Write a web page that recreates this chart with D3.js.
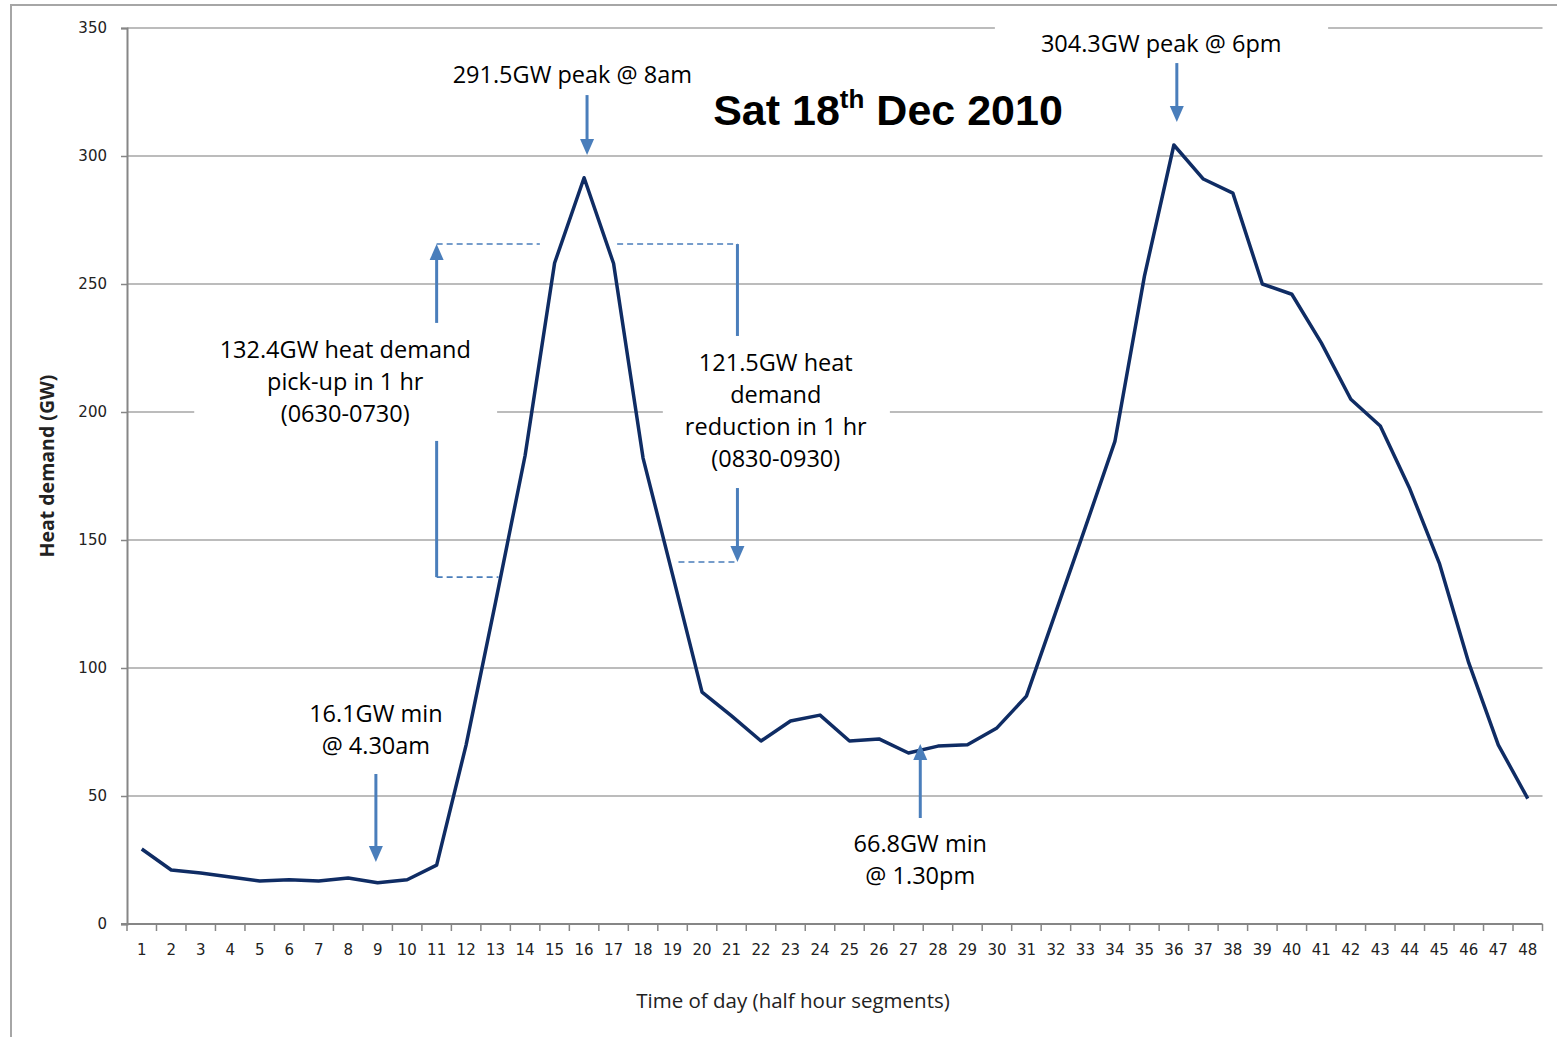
<!DOCTYPE html>
<html>
<head>
<meta charset="utf-8">
<script src="https://cdn.jsdelivr.net/npm/d3@7"></script>
<style>
  body { margin: 0; background: #fff; }
  svg { display: block; }
  .tick-label { font-family: "DejaVu Sans", Verdana, sans-serif; font-size: 15px; fill: #222; }
  .ann { font-family: "Open Sans", "Noto Sans", sans-serif; font-size: 23.5px; fill: #000; }
  .axis-title { font-family: "Open Sans", "Noto Sans", sans-serif; fill: #222; }
</style>
</head>
<body>
<div id="chart"></div>
<script>
  const slots = d3.range(1, 49);
  const demand = [
    29.3, 21.1, 19.9, 18.4, 16.8, 17.3, 16.8, 18.0, 16.1, 17.3,
    23.0, 70.0, 125.8, 183.0, 258.2, 291.5, 258.0, 182.0, 136.5, 90.6,
    81.3, 71.5, 79.3, 81.6, 71.5, 72.3, 66.8, 69.5, 70.0, 76.6,
    89.0, 122.0, 155.0, 188.5, 253.0, 304.3, 291.0, 285.5, 250.0, 246.0,
    227.0, 205.0, 194.5, 170.0, 141.0, 102.0, 70.0, 49.0
  ];
  const yTicks = [0, 50, 100, 150, 200, 250, 300, 350];

  const W = 1557, H = 1037;
  const margin = { top: 28, right: 14.5, bottom: 113, left: 127 };

  const svg = d3.select("#chart").append("svg")
    .attr("width", W).attr("height", H);

  // chart area border (only top and left edges are visible)
  svg.append("rect")
    .attr("x", 11).attr("y", 5).attr("width", W + 10).attr("height", H + 10)
    .attr("fill", "#fff").attr("stroke", "#a6a6a6").attr("stroke-width", 2);

  const x = d3.scaleBand().domain(slots).range([margin.left, W - margin.right]);
  const y = d3.scaleLinear().domain([0, 350]).range([H - margin.bottom, margin.top]);
  // fractional slot position (category centres)
  const xs = d3.scaleLinear().domain([1, 48])
    .range([x(1) + x.bandwidth() / 2, x(48) + x.bandwidth() / 2]);

  // gridlines
  svg.append("g")
    .selectAll("line")
    .data(yTicks.filter(d => d > 0))
    .join("line")
    .attr("x1", margin.left).attr("x2", W - margin.right)
    .attr("y1", y).attr("y2", y)
    .attr("stroke", "#a6a6a6").attr("stroke-width", 1.5);

  // white text boxes that break the gridlines
  const boxes = [
    { x0: 29.93, x1: 41.23, v0: 331, v1: 353 },
    { x0: 2.78, x1: 13.05, v0: 193, v1: 230 },
    { x0: 18.67, x1: 26.37, v0: 176, v1: 226 }
  ];
  svg.append("g")
    .selectAll("rect")
    .data(boxes)
    .join("rect")
    .attr("x", d => xs(d.x0))
    .attr("y", d => y(d.v1))
    .attr("width", d => xs(d.x1) - xs(d.x0))
    .attr("height", d => y(d.v0) - y(d.v1))
    .attr("fill", "#fff");

  // y axis
  const yAxis = svg.append("g")
    .attr("transform", `translate(${margin.left},0)`)
    .call(d3.axisLeft(y).tickValues(yTicks).tickSize(6).tickPadding(14));
  yAxis.select(".domain").attr("stroke", "#868686").attr("stroke-width", 2);
  yAxis.selectAll(".tick line").attr("stroke", "#868686").attr("stroke-width", 1.5);
  yAxis.selectAll(".tick text").attr("class", "tick-label");

  // x axis
  const xAxis = svg.append("g")
    .attr("transform", `translate(0,${y(0)})`)
    .call(d3.axisBottom(x).tickSize(0).tickPadding(20));
  xAxis.select(".domain").remove();
  xAxis.selectAll(".tick text").attr("class", "tick-label");
  xAxis.append("line")
    .attr("x1", margin.left - 6).attr("x2", W - margin.right)
    .attr("stroke", "#868686").attr("stroke-width", 2);
  xAxis.append("g")
    .selectAll("line")
    .data(slots.map(d => x(d)).concat([W - margin.right]))
    .join("line")
    .attr("x1", d => d).attr("x2", d => d)
    .attr("y1", 0).attr("y2", 7)
    .attr("stroke", "#868686").attr("stroke-width", 1.5);

  // axis titles
  svg.append("text")
    .attr("class", "axis-title")
    .attr("transform", `translate(54,${(y(0) + y(350)) / 2 - 10}) rotate(-90)`)
    .attr("text-anchor", "middle")
    .attr("font-weight", "bold")
    .attr("font-size", 19.5)
    .text("Heat demand (GW)");

  svg.append("text")
    .attr("class", "axis-title")
    .attr("x", 793).attr("y", 1008)
    .attr("text-anchor", "middle")
    .attr("font-size", 20.5)
    .text("Time of day (half hour segments)");

  // data line
  svg.append("path")
    .datum(demand)
    .attr("fill", "none")
    .attr("stroke", "#0f2c64")
    .attr("stroke-width", 3.5)
    .attr("stroke-linejoin", "round")
    .attr("d", d3.line().x((d, i) => xs(slots[i])).y(d => y(d)));

  // title
  const title = svg.append("text")
    .attr("x", 888).attr("y", 125)
    .attr("text-anchor", "middle")
    .attr("font-family", "'Liberation Sans', Arial, sans-serif")
    .attr("font-weight", "bold")
    .attr("font-size", 43)
    .attr("fill", "#000");
  title.append("tspan").text("Sat 18");
  title.append("tspan").attr("font-size", 26).attr("dy", -17).text("th");
  title.append("tspan").attr("dy", 17).text(" Dec 2010");

  // annotations
  const blue = "#4a7ebb";
  const arrows = [
    { s: 16.1, from: 323.8, to: 300.4 },
    { s: 36.1, from: 336.3, to: 313.3 },
    { s: 11.0, from: 234.8, to: 265.6 },
    { s: 21.2, from: 170.3, to: 141.4 },
    { s: 8.94, from: 58.6, to: 24.2 },
    { s: 27.4, from: 41.4, to: 70.3 }
  ];
  const solids = [
    { s: 11.0, from: 188.7, to: 135.5 },
    { s: 21.2, from: 265.6, to: 229.7 }
  ];
  const dashes = [
    { s0: 11.0, s1: 14.5, v: 265.6 },
    { s0: 11.0, s1: 13.1, v: 135.5 },
    { s0: 17.12, s1: 21.2, v: 265.6 },
    { s0: 19.2, s1: 21.2, v: 141.4 }
  ];

  const ann = svg.append("g");
  ann.selectAll("line.dash")
    .data(dashes)
    .join("line")
    .attr("class", "dash")
    .attr("x1", d => xs(d.s0)).attr("x2", d => xs(d.s1))
    .attr("y1", d => y(d.v)).attr("y2", d => y(d.v))
    .attr("stroke", blue).attr("stroke-width", 1.6)
    .attr("stroke-dasharray", "6,4");

  ann.selectAll("line.solid")
    .data(solids)
    .join("line")
    .attr("class", "solid")
    .attr("x1", d => xs(d.s)).attr("x2", d => xs(d.s))
    .attr("y1", d => y(d.from)).attr("y2", d => y(d.to))
    .attr("stroke", blue).attr("stroke-width", 3);

  const headLen = 16, headHalf = 7;
  const arrowG = ann.selectAll("g.arrow")
    .data(arrows)
    .join("g")
    .attr("class", "arrow");
  arrowG.append("line")
    .attr("x1", d => xs(d.s)).attr("x2", d => xs(d.s))
    .attr("y1", d => y(d.from))
    .attr("y2", d => {
      const dir = Math.sign(y(d.to) - y(d.from));
      return y(d.to) - dir * (headLen - 2);
    })
    .attr("stroke", blue).attr("stroke-width", 3);
  arrowG.append("path")
    .attr("fill", blue)
    .attr("d", d => {
      const cx = xs(d.s), ty = y(d.to);
      const dir = Math.sign(ty - y(d.from));
      const by = ty - dir * headLen;
      return `M${cx},${ty}L${cx - headHalf},${by}L${cx + headHalf},${by}Z`;
    });

  const labels = [
    { s: 15.6, v: 328.5, lines: ["291.5GW peak @ 8am"] },
    { s: 35.57, v: 340.6, lines: ["304.3GW peak @ 6pm"] },
    { s: 7.9, v: 221.0, lines: ["132.4GW heat demand", "pick-up in 1 hr", "(0630-0730)"] },
    { s: 22.5, v: 215.9, lines: ["121.5GW heat", "demand", "reduction in 1 hr", "(0830-0930)"] },
    { s: 8.94, v: 78.9, lines: ["16.1GW min", "@ 4.30am"] },
    { s: 27.4, v: 28.1, lines: ["66.8GW min", "@ 1.30pm"] }
  ];
  ann.selectAll("text.ann")
    .data(labels)
    .join("text")
    .attr("class", "ann")
    .attr("text-anchor", "middle")
    .attr("x", d => xs(d.s))
    .attr("y", d => y(d.v))
    .each(function (d) {
      d3.select(this).selectAll("tspan")
        .data(d.lines)
        .join("tspan")
        .attr("x", xs(d.s))
        .attr("dy", (_, i) => (i === 0 ? 0 : 32))
        .text(t => t);
    });
</script>
</body>
</html>
